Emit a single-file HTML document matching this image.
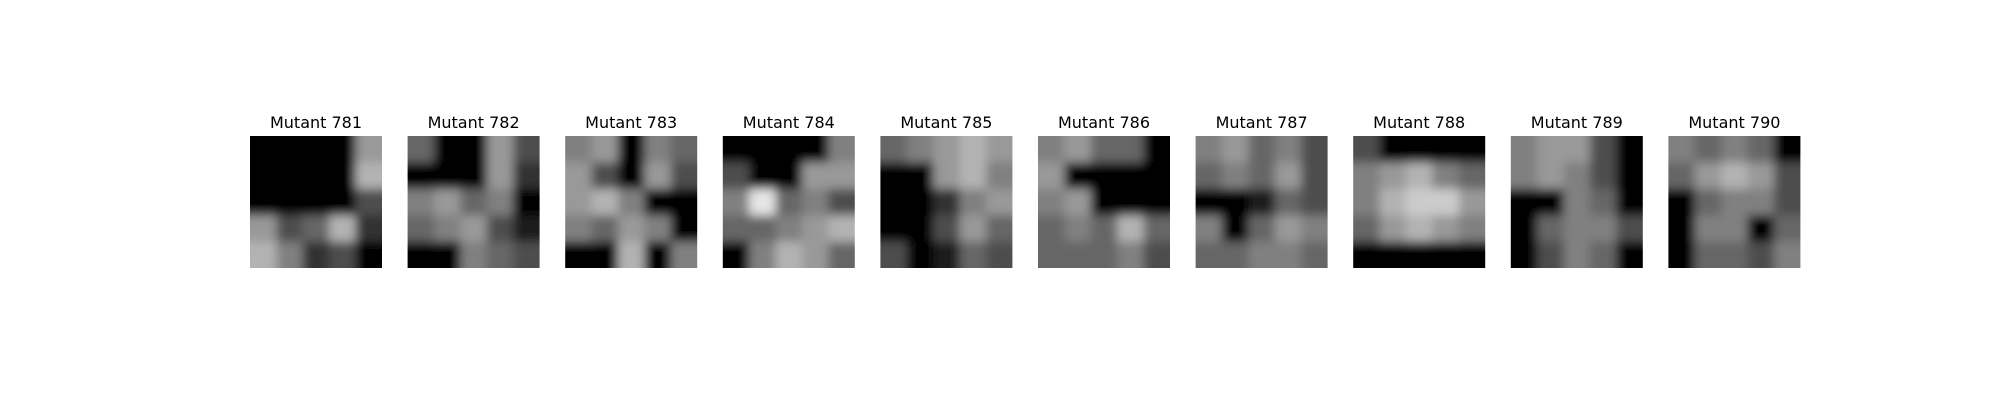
<!DOCTYPE html>
<html><head><meta charset="utf-8"><style>
html,body{margin:0;padding:0;background:#fff;}
svg{display:block;}
text{font-family:"DejaVu Sans","Liberation Sans",sans-serif;}
</style></head><body>
<svg id="fig" width="2000" height="400" viewBox="0 0 2000 400">
<defs>
<filter id="blur" x="-0.2" y="-0.2" width="1.4" height="1.4"><feGaussianBlur stdDeviation="5"/></filter>
</defs>
<g id="panels"></g>
</svg>
<script>
const labels=["Mutant 781","Mutant 782","Mutant 783","Mutant 784","Mutant 785","Mutant 786","Mutant 787","Mutant 788","Mutant 789","Mutant 790"];
const grids=[
[[0,0,0,0,.6],[0,0,0,0,.7],[0,0,0,0,.3],[.6,.3,.4,.7,.2],[.7,.5,.2,.3,0]],
[[.4,0,0,.6,.3],[0,0,0,.6,.2],[.5,.6,.4,.5,0],[.4,.5,.6,.3,.1],[0,0,.5,.4,.3]],
[[.5,.6,0,.5,.4],[.6,.3,0,.6,.3],[.6,.7,.5,0,0],[.5,.4,.6,.5,0],[0,0,.7,0,.5]],
[[0,0,0,0,.5],[.3,0,0,.6,.6],[.5,.9,.4,.5,.3],[.4,.4,.5,.6,.7],[0,.5,.7,.6,.4]],
[[.4,.5,.6,.7,.6],[0,0,.6,.7,.5],[0,0,.2,.5,.6],[0,0,.3,.6,.4],[.3,0,.1,.4,.3]],
[[.5,.6,.4,.4,0],[.6,0,0,0,0],[.5,.6,0,0,0],[.4,.5,.4,.7,.4],[.4,.4,.4,.5,.3]],
[[.5,.6,.4,.5,.3],[.4,.5,.4,.6,.3],[0,0,.1,.4,.3],[.5,0,.4,.6,.5],[.4,.4,.5,.5,.4]],
[[.3,0,0,0,0],[.5,.6,.7,.5,.4],[.5,.7,.8,.8,.6],[.4,.6,.7,.6,.5],[0,0,0,0,0]],
[[.5,.6,.6,.3,0],[.5,.6,.5,.3,0],[0,0,.5,.4,0],[0,.4,.5,.5,.3],[0,.3,.5,.4,0]],
[[.5,.4,.5,.4,0],[.4,.6,.7,.6,.3],[0,.4,.5,.5,.3],[0,.5,.5,0,.4],[0,.4,.4,.3,.5]]
];
const NS="http://www.w3.org/2000/svg";
const g=document.getElementById('panels');
const x0=250,y0=136,step=157.6,size=132,pad=15;
labels.forEach((lab,i)=>{
  const px=x0+i*step;
  const t=document.createElementNS(NS,'text');
  
  
  t.setAttribute('x',px+size/2);t.setAttribute('y',128);
  t.setAttribute('text-anchor','middle');t.setAttribute('font-size','16');
  t.textContent=lab;g.appendChild(t);
  const sub=document.createElementNS(NS,'svg');
  
  
  sub.setAttribute('x',px);sub.setAttribute('y',y0);
  sub.setAttribute('width',size);sub.setAttribute('height',size);
  sub.setAttribute('overflow','hidden');
  const gg=document.createElementNS(NS,'g');
  gg.setAttribute('filter','url(#blur)');
  const grid=grids[i],n=grid.length,c=size/n;
  const clampPos=(k)=>k===0?-pad:k*c;
  const clampSize=(k)=>(k===0?c+pad:0)+(k===n-1?c+pad:c)+0.5;
  grid.forEach((row,r)=>row.forEach((v,k)=>{
    const rc=document.createElementNS(NS,'rect');
    
    
    rc.setAttribute('x',clampPos(k));rc.setAttribute('y',clampPos(r));
    rc.setAttribute('width',k===0?c+pad+0.5:(k===n-1?c+pad:c+0.5));
    rc.setAttribute('height',r===0?c+pad+0.5:(r===n-1?c+pad:c+0.5));
    const l=Math.round(v*255);
    rc.setAttribute('fill',`rgb(${l},${l},${l})`);
    gg.appendChild(rc);
  }));
  sub.appendChild(gg);g.appendChild(sub);
});
</script>
</body></html>
